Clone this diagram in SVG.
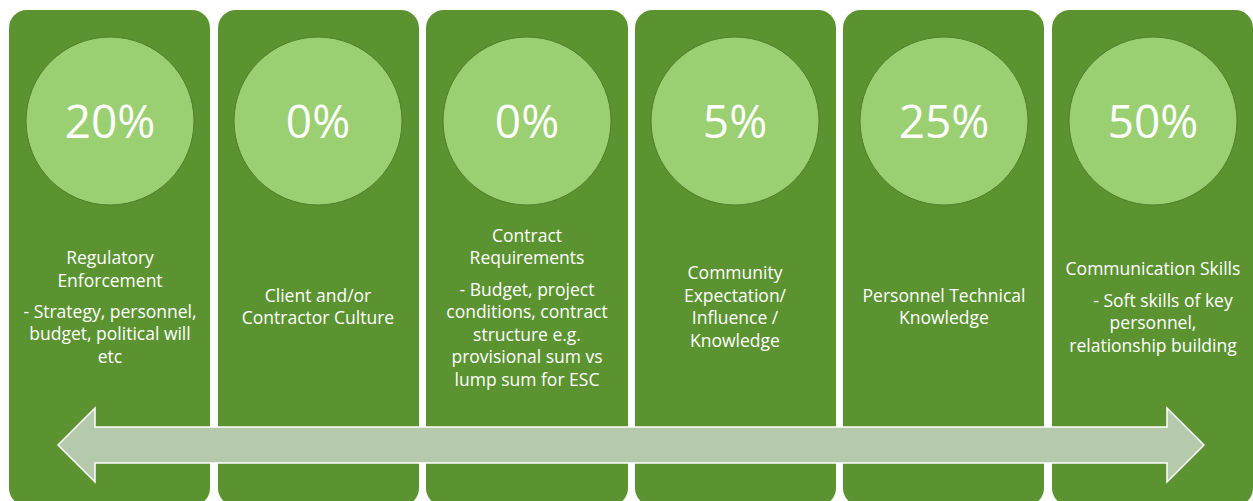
<svg xmlns="http://www.w3.org/2000/svg" width="1253" height="501" viewBox="0 0 1253 501">
  <style>
    .panel { fill: #5B9331; }
    .disc { fill: #9BD072; stroke: #4D7F2A; stroke-width: 1; }
    .pct { font-family: "Open Sans", "Liberation Sans", sans-serif; font-size: 46px; fill: #FFFFFF; text-anchor: middle; }
    .lbl { font-family: "Open Sans", "Liberation Sans", sans-serif; font-size: 17.5px; fill: #FFFFFF; text-anchor: middle; }
    .bar { fill: #B5C9AD; stroke: #FFFFFF; stroke-width: 1.5; stroke-linejoin: miter; }
  </style>

  <g id="node-regulatory">
    <rect class="panel" x="9" y="10" width="201" height="496" rx="18"/>
    <circle class="disc" cx="110" cy="121" r="84"/>
    <text class="pct" x="110" y="138">20%</text>
    <text class="lbl" x="110" y="264">Regulatory</text>
    <text class="lbl" x="110" y="287">Enforcement</text>
    <text class="lbl" x="110" y="318">- Strategy, personnel,</text>
    <text class="lbl" x="110" y="340">budget, political will</text>
    <text class="lbl" x="110" y="363">etc</text>
  </g>

  <g id="node-culture">
    <rect class="panel" x="218" y="10" width="201" height="496" rx="18"/>
    <circle class="disc" cx="318" cy="121" r="84"/>
    <text class="pct" x="318" y="138">0%</text>
    <text class="lbl" x="318" y="302">Client and/or</text>
    <text class="lbl" x="318" y="324">Contractor Culture</text>
  </g>

  <g id="node-contract">
    <rect class="panel" x="426" y="10" width="202" height="496" rx="18"/>
    <circle class="disc" cx="527" cy="121" r="84"/>
    <text class="pct" x="527" y="138">0%</text>
    <text class="lbl" x="527" y="242">Contract</text>
    <text class="lbl" x="527" y="264">Requirements</text>
    <text class="lbl" x="527" y="296">- Budget, project</text>
    <text class="lbl" x="527" y="318">conditions, contract</text>
    <text class="lbl" x="527" y="341">structure e.g.</text>
    <text class="lbl" x="527" y="363">provisional sum vs</text>
    <text class="lbl" x="527" y="386">lump sum for ESC</text>
  </g>

  <g id="node-community">
    <rect class="panel" x="635" y="10" width="201" height="496" rx="18"/>
    <circle class="disc" cx="735" cy="121" r="84"/>
    <text class="pct" x="735" y="138">5%</text>
    <text class="lbl" x="735" y="279">Community</text>
    <text class="lbl" x="735" y="302">Expectation/</text>
    <text class="lbl" x="735" y="324">Influence /</text>
    <text class="lbl" x="735" y="347">Knowledge</text>
  </g>

  <g id="node-technical">
    <rect class="panel" x="843" y="10" width="201" height="496" rx="18"/>
    <circle class="disc" cx="944" cy="121" r="84"/>
    <text class="pct" x="944" y="138">25%</text>
    <text class="lbl" x="944" y="302">Personnel Technical</text>
    <text class="lbl" x="944" y="324">Knowledge</text>
  </g>

  <g id="node-communication">
    <rect class="panel" x="1052" y="10" width="201" height="496" rx="18"/>
    <circle class="disc" cx="1153" cy="121" r="84"/>
    <text class="pct" x="1153" y="138">50%</text>
    <text class="lbl" x="1153" y="275">Communication Skills</text>
    <text class="lbl" x="1163" y="307">- Soft skills of key</text>
    <text class="lbl" x="1153" y="329">personnel,</text>
    <text class="lbl" x="1153" y="352">relationship building</text>
  </g>

  <!-- double-headed scale arrow across all columns -->
  <g id="connectors">
    <path class="bar" d="M58,445 L95,408 L95,427 L1167,427 L1167,408 L1204,445 L1167,482 L1167,463 L95,463 L95,482 Z"/>
  </g>
</svg>
